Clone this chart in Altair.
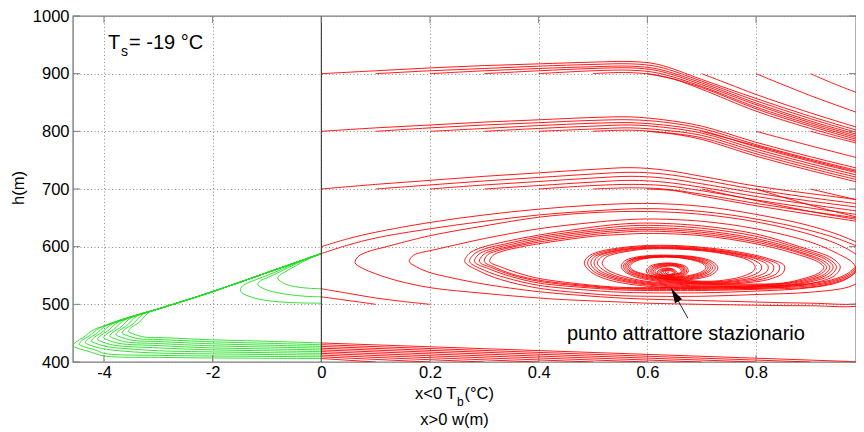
import altair as alt
import pandas as pd

RED = "#ff0000"
GREEN = "#22dd22"
BOX = "#7d7d7d"
FONT = "Liberation Sans"

# axis ticks (left half: Tb in degC, right half: w in m)
X_TICK_VALUES = [-4, -2, 0, 0.2, 0.4, 0.6, 0.8]
Y_TICK_VALUES = [400, 500, 600, 700, 800, 900, 1000]
X_LEFT_LIMIT = -4.57
X_RIGHT_LIMIT = 0.984
Y_LIMITS = [400, 1000]

# ---------------- trajectories ----------------
BAND900 = [
    [(0,900),(0.1,905),(0.2,910),(0.3,914),(0.4,917),(0.5,920),(0.57,921),(0.62,916),(0.7,890),(0.8,857),(0.9,826),(1.0,798)],
    [(0.1,900),(0.2,905),(0.3,909),(0.4,913),(0.5,916),(0.57,917),(0.62,912),(0.7,887),(0.8,853),(0.9,822),(1.0,794)],
    [(0.2,900),(0.3,905),(0.4,909),(0.5,912),(0.57,913),(0.62,908),(0.7,884),(0.8,849),(0.9,818),(1.0,791)],
    [(0.3,900),(0.4,905),(0.5,909),(0.57,910),(0.62,905),(0.7,881),(0.8,846),(0.9,815),(1.0,788)],
    [(0.4,900),(0.5,905),(0.57,906),(0.62,901),(0.7,878),(0.8,842),(0.9,812),(1.0,785)],
    [(0.5,900),(0.56,902),(0.62,897),(0.7,876),(0.8,839),(0.9,809),(1.0,782)],
    [(0.6,900),(0.65,890),(0.7,873),(0.8,835),(0.9,805),(1.0,779)],
    [(0.7,900),(0.75,882),(0.8,864),(0.9,832),(1.0,803)],
    [(0.8,900),(0.9,862),(1.0,828)],
    [(0.9,900),(0.95,880),(1.0,862)],
]
BAND800 = [
    [(0,800),(0.1,806),(0.2,811),(0.3,816),(0.4,820),(0.5,824),(0.57,825),(0.63,820),(0.7,809),(0.8,781),(0.9,756),(1.0,733)],
    [(0.1,800),(0.2,806),(0.3,811),(0.4,815),(0.5,819),(0.57,820),(0.63,816),(0.7,805),(0.8,777),(0.9,752),(1.0,729)],
    [(0.2,800),(0.3,805),(0.4,810),(0.5,814),(0.57,815),(0.63,811),(0.7,801),(0.8,773),(0.9,748),(1.0,725)],
    [(0.3,800),(0.4,805),(0.5,809),(0.57,811),(0.63,807),(0.7,797),(0.8,769),(0.9,744),(1.0,721)],
    [(0.4,800),(0.5,804),(0.57,806),(0.63,802),(0.7,793),(0.8,765),(0.9,740),(1.0,717)],
    [(0.5,800),(0.57,802),(0.63,798),(0.7,789),(0.8,761),(0.9,736),(1.0,713)],
    [(0.6,800),(0.65,795),(0.7,786),(0.8,757),(0.9,732),(1.0,709)],
    [(0.7,800),(0.8,775),(0.9,750),(1.0,727)],
    [(0.8,800),(0.9,775),(1.0,751)],
    [(0.9,800),(0.95,788),(1.0,776)],
]
BAND700 = [
    [(0,700),(0.1,708),(0.2,715),(0.3,722),(0.4,728),(0.5,734),(0.57,737),(0.63,733),(0.7,722),(0.8,705),(0.9,692),(1.0,680)],
    [(0.1,700),(0.2,707),(0.3,714),(0.4,720),(0.5,726),(0.57,729),(0.63,726),(0.7,716),(0.8,699),(0.9,685),(1.0,673)],
    [(0.2,700),(0.3,707),(0.4,713),(0.5,719),(0.57,722),(0.63,719),(0.7,709),(0.8,693),(0.9,679),(1.0,667)],
    [(0.3,700),(0.4,706),(0.5,712),(0.57,715),(0.63,712),(0.7,703),(0.8,687),(0.9,673),(1.0,660)],
    [(0.4,700),(0.5,706),(0.57,708),(0.63,706),(0.7,697),(0.8,681),(0.9,667),(1.0,654)],
    [(0.5,700),(0.57,702),(0.63,700),(0.7,691),(0.8,675),(0.9,661),(1.0,648)],
    [(0.6,700),(0.65,697),(0.7,688),(0.8,671),(0.9,656),(1.0,642)],
    [(0.7,700),(0.8,680),(0.9,661),(1.0,645)],
    [(0.8,700),(0.9,672),(1.0,648)],
    [(0.9,700),(1.0,678)],
]

SPIRAL_T2 = [
    (0,600),(0.05,614),(0.1,625),(0.2,642),(0.3,655),(0.4,665),(0.5,672),(0.6,675),(0.7,670),(0.8,656),(0.9,636),(0.97,614),(1.02,590),(1.05,555),(1.04,520),(1.0,499),
    (0.9,497.5),(0.8,498.5),(0.7,500),(0.6,502),(0.55,504),(0.45,508),(0.4,511),(0.3,519),(0.2,529),(0.14,541),(0.1,553),(0.075,563),(0.062,572),
    (0.068,583),(0.085,591),(0.12,600),(0.2,619),(0.3,636),(0.4,651),(0.5,659),(0.6,661),(0.7,656),(0.8,643),(0.9,621),(0.96,600),(0.995,578),(1.005,560),(0.995,542),(0.97,530),
    (0.9,521),(0.8,517),(0.7,514),(0.6,514),(0.55,515),(0.5,518),(0.4,528),(0.33,543),(0.29,558),(0.264,574),
    (0.272,588),(0.29,597),(0.33,607),(0.4,620),(0.5,634),(0.55,639),(0.6,641),(0.7,636),(0.8,622),(0.88,600),(0.94,580),(0.955,565),(0.945,550),(0.91,538),
    (0.85,530),(0.78,527),(0.7,527),(0.62,530),(0.56,536),(0.52,545),(0.495,557),(0.484,571),
    (0.49,582),(0.51,591),(0.55,598),(0.6,602),(0.65,602),(0.7,599),(0.76,592),(0.82,580),(0.852,567),(0.85,555),(0.83,545),(0.79,538),
    (0.74,535),(0.68,536),(0.62,540),(0.58,547),(0.558,557),(0.552,566),
    (0.558,575),(0.575,581),(0.61,585),(0.65,585),(0.69,582),(0.72,574),(0.73,563),(0.72,552),(0.695,545),
    (0.66,542),(0.63,544),(0.605,550),(0.598,558),(0.605,566),(0.625,571),(0.65,571),(0.672,565),(0.675,556),(0.662,548),(0.645,546),
    (0.625,549),(0.618,556),(0.628,562),(0.645,562),(0.655,555),(0.645,550),(0.635,553),(0.64,556),
]
SPIRAL_T1 = [
    (0,588),(0.05,603),(0.1,615),(0.2,631),(0.3,644),(0.4,655),(0.5,662),(0.6,666),(0.7,661),(0.8,648),(0.9,628),(0.97,607),(1.02,583),(1.045,552),(1.035,522),(1.0,503),
    (0.9,502),(0.8,504),(0.7,506.5),(0.6,509),(0.55,511),(0.5,514),(0.4,522),(0.3,535),(0.24,546),(0.2,555),(0.175,565),(0.162,574),
    (0.168,584),(0.18,589),(0.2,593),(0.3,614),(0.4,631),(0.5,642),(0.55,646),(0.6,648),(0.7,644),(0.8,631),(0.9,608),(0.95,588),(0.978,572),(0.984,560),(0.97,546),(0.94,535),
    (0.88,527),(0.8,523),(0.7,520),(0.6,520),(0.55,521),(0.5,524),(0.4,533),(0.34,546),(0.3,559),(0.273,574),
    (0.281,587),(0.3,596),(0.34,605),(0.4,617),(0.5,630),(0.55,635),(0.6,637),(0.7,632),(0.8,618),(0.88,597),(0.935,578),(0.948,565),(0.938,551),(0.905,540),
    (0.85,532),(0.78,529),(0.7,529),(0.62,532),(0.565,538),(0.525,547),(0.5,558),(0.49,571),
    (0.496,582),(0.515,590),(0.555,597),(0.6,600.5),(0.65,600.5),(0.7,597.5),(0.76,590),(0.815,579),(0.843,567),(0.84,555),(0.82,546),(0.78,539),
    (0.735,536),(0.68,537),(0.625,541),(0.585,548),(0.562,557),(0.556,566),
    (0.562,574),(0.578,580),(0.61,584),(0.65,584),(0.688,581),(0.716,573),(0.725,563),(0.715,553),(0.69,546),
    (0.66,543),(0.632,545),(0.608,551),(0.602,558),(0.608,565),(0.627,570),(0.65,570),(0.669,564),(0.672,556),(0.66,549),(0.645,547),(0.627,550),(0.621,556),(0.63,561),(0.645,561),(0.652,555),(0.643,551),(0.637,554),
]
SPIRAL_G2 = [
    (1.02,592),(1.0,577),(0.99,563),(0.975,549),(0.945,538),(0.9,530),(0.8,526),(0.7,524),(0.6,524),(0.55,525),(0.5,528),(0.4,537),(0.35,548),(0.31,561),(0.282,574),
    (0.29,587),(0.31,595),(0.35,604),(0.4,614),(0.5,627),(0.55,631),(0.6,633),(0.7,628),(0.8,614),(0.88,594),(0.93,577),(0.942,565),(0.932,552),(0.9,541),
    (0.85,533),(0.78,530.5),(0.7,530.5),(0.62,533.5),(0.57,539),(0.53,548),(0.505,559),(0.496,571),
    (0.502,582),(0.52,589),(0.56,596),(0.6,599),(0.65,599),(0.7,596),(0.76,588.5),(0.81,578),(0.832,567),(0.83,556),(0.81,547),(0.77,540),
    (0.73,537),(0.68,538),(0.628,542),(0.588,549),(0.565,558),(0.559,566),(0.565,574),(0.58,579.5),(0.612,583),(0.65,583),(0.686,580),(0.712,572),(0.72,563),(0.71,554),(0.686,547),
    (0.658,544),(0.633,546),(0.611,552),(0.605,558),(0.611,564),(0.628,569),(0.65,569),(0.667,563),(0.669,556),(0.657,550),(0.643,548),(0.629,551),(0.624,556),(0.632,560),(0.645,560),(0.65,555),(0.641,552),
]
SPIRAL_G3 = [
    (1.02,590),(0.998,575),(0.987,563),(0.972,550),(0.943,539.5),(0.9,532),(0.8,528),(0.7,526),(0.6,526),(0.55,527),(0.5,530),(0.4,540),(0.35,551),(0.315,563),(0.291,574),
    (0.298,586),(0.318,594),(0.355,602),(0.4,611),(0.5,624),(0.55,628),(0.6,630),(0.7,625),(0.8,611),(0.88,591),(0.925,575),(0.936,564),(0.926,552),(0.895,542),
    (0.85,535),(0.78,532),(0.7,532),(0.62,535),(0.575,540),(0.535,549),(0.51,560),(0.502,571),
    (0.508,582),(0.526,589),(0.565,595.5),(0.6,598),(0.65,598),(0.7,595),(0.76,587.5),(0.805,577),(0.822,567),(0.82,557),(0.8,548),(0.765,541),
    (0.727,538),(0.68,539),(0.63,543),(0.591,550),(0.568,558),(0.562,566),(0.568,573.5),(0.583,579),(0.614,582.5),(0.65,582.5),(0.684,579),(0.708,571.5),(0.716,563),(0.706,554.5),(0.683,548),
    (0.656,545),(0.634,547),(0.613,552),(0.608,558),(0.614,564),(0.63,568),(0.65,568),(0.665,563),(0.667,556),(0.655,551),(0.641,549),(0.63,552),(0.626,556),(0.634,559),(0.645,559),(0.648,555),
]
SPIRAL_G4 = [
    (1.02,588),(0.996,574),(0.984,563),(0.969,551),(0.941,541),(0.9,534),(0.8,530),(0.7,528),(0.6,527.5),(0.55,528),(0.5,531.5),(0.4,542),(0.35,553),(0.32,564),(0.300,574),
    (0.306,586),(0.325,593),(0.36,601),(0.4,608),(0.5,621),(0.55,625),(0.6,627),(0.7,622),(0.8,608),(0.88,589),(0.92,574),(0.93,564),(0.92,553),(0.89,543),
    (0.85,536),(0.78,533.5),(0.7,533.5),(0.62,536.5),(0.58,541),(0.54,550),(0.517,561),(0.508,571),
    (0.514,581),(0.532,588),(0.57,594.5),(0.6,597),(0.65,597),(0.7,594),(0.755,586.5),(0.795,577),(0.81,567),(0.808,558),(0.79,549),(0.758,542),
    (0.722,539),(0.68,540),(0.632,544),(0.594,551),(0.571,559),(0.565,566),(0.571,573),(0.586,578.5),(0.616,582),(0.65,582),(0.682,578),(0.705,571),(0.712,563),(0.702,555),(0.68,549),
    (0.654,546),(0.635,548),(0.615,553),(0.611,558),(0.617,563),(0.632,567),(0.65,567),(0.663,562),(0.664,556),(0.653,552),(0.64,550),(0.632,553),(0.629,557),(0.637,559),(0.646,557),
]
SPIRAL_G5 = [
    (1.02,586),(0.994,573),(0.981,563),(0.966,552),(0.939,542.5),(0.9,536),(0.8,532),(0.7,530),(0.6,529),(0.55,529.5),(0.5,533),(0.4,545),(0.36,555),(0.33,565),(0.310,574),
    (0.316,585),(0.333,592),(0.365,599),(0.4,605),(0.5,618),(0.55,621),(0.6,623),(0.7,619),(0.8,605),(0.875,587),(0.915,573),(0.925,564),(0.915,554),(0.885,544),
    (0.85,537),(0.78,535),(0.7,535),(0.62,538),(0.585,542),(0.548,551),(0.525,561),(0.517,571),
    (0.523,581),(0.54,587.5),(0.575,593.5),(0.6,596),(0.65,596),(0.7,593),(0.75,586),(0.785,577),(0.798,567),(0.796,558.5),(0.78,550),(0.75,543),
    (0.717,540),(0.68,541),(0.634,545),(0.597,552),(0.574,559),(0.568,566),(0.574,572.5),(0.589,578),(0.618,581.5),(0.65,581.5),(0.68,577.5),(0.702,570.5),(0.708,563),(0.698,555.5),(0.677,550),
    (0.652,547),(0.636,549),(0.617,553.5),(0.614,558),(0.62,562.5),(0.634,566),(0.65,566),(0.661,561),(0.662,556),(0.651,552.5),(0.64,551),(0.634,554),(0.633,557),(0.64,558),
]

RED_LEADIN = [
    [(0.2,500),(0.15,505),(0.1,511),(0.05,519),(0,527)],
    [(0.1,500),(0.07,504),(0.035,508.5),(0,513)],
]
RED_BOTTOM_START_W = [0.1,0.2,0.3,0.4,0.5,0.6,0.7,0.8,0.9,1.0]
RED_BOTTOM_END_H = [406,409,412,415,418,421,424,427,430,433]

GREEN_LINE = [(-3,492),(-2,522),(-1,555),(0,588)]
GREEN_TIPS = [
    [(0,406),(-1,406.5),(-2,407),(-3,408),(-4,410.5),(-4.27,418),(-4.49,424),(-4.57,428),(-4.51,435),(-4.39,442),(-4.17,457),(-4,462)],
    [(0,409),(-1,409.7),(-2,410.4),(-3,411.5),(-4,415),(-4.157,421),(-4.377,426.8),(-4.457,430.8),(-4.397,437.8),(-4.277,444.8),(-4.057,460.3)],
    [(0,412),(-1,413),(-2,414),(-3,415.5),(-3.6,418.5),(-4.044,423.6),(-4.264,429.6),(-4.344,433.6),(-4.284,440.6),(-4.164,447.6),(-3.944,463.7)],
    [(0,415),(-1,416.2),(-2,417.5),(-3,419.5),(-3.5,422.5),(-3.931,426.4),(-4.151,432.4),(-4.231,436.4),(-4.171,443.4),(-4.051,450.4),(-3.831,467.1)],
    [(0,418),(-1,419.5),(-2,421),(-3,424.5),(-3.818,429.2),(-4.038,435.2),(-4.118,439.2),(-4.058,446.2),(-3.938,453.2),(-3.718,470.5)],
    [(0,421),(-1,422.7),(-2,424.4),(-3,428.5),(-3.705,432),(-3.925,438),(-4.005,442),(-3.945,449),(-3.825,456),(-3.605,473.9)],
    [(0,424),(-1,426),(-2,428),(-3,432),(-3.592,434.8),(-3.812,440.8),(-3.892,444.8),(-3.832,451.8),(-3.712,458.8),(-3.492,477.2)],
    [(0,427),(-1,429.2),(-2,431.5),(-3,435.5),(-3.479,437.6),(-3.699,443.6),(-3.779,447.6),(-3.719,454.6),(-3.599,461.6),(-3.379,480.6)],
    [(0,430),(-1,432.5),(-2,435),(-3,439),(-3.366,440.4),(-3.586,446.4),(-3.666,450.4),(-3.606,457.4),(-3.486,464.4),(-3.266,484)],
    [(0,433),(-1,436),(-2,438.5),(-3,442.5),(-3.253,443.2),(-3.473,449.2),(-3.553,453.2),(-3.493,460.2),(-3.373,467.2),(-3.153,487.4)],
]
GREEN_SMALL = [
    [(0,502),(-0.4,502.5),(-0.8,504.5),(-1.1,508),(-1.33,514),(-1.46,520),(-1.49,526),(-1.45,532),(-1.33,538),(-1.0,550),(-0.7,562),(-0.4,574.5),(0,588)],
    [(0,513),(-0.3,514),(-0.6,517),(-0.9,522),(-1.08,528),(-1.17,535),(-1.12,541),(-1.0,546),(-0.75,557),(-0.45,571),(-0.2,581),(0,588)],
    [(0,527),(-0.25,528),(-0.5,531),(-0.68,536),(-0.8,545),(-0.76,551),(-0.65,557),(-0.45,568),(-0.25,578),(0,588)],
]

# annotations
TS_PARTS = ["T", "s", "= -19 °C"]
ATTRACTOR_LABEL = "punto attrattore stazionario"
ARROW_TAIL = (0.6745, 476)
ARROW_TIP = (0.644, 528)
XTITLE_TOP = ["x<0 T", "b", "(°C)"]
XTITLE_BOTTOM = "x>0 w(m)"
YTITLE = "h(m)"

# ---------------- build tables ----------------
def to_u(x):
    # left half of the axis (Tb) is drawn at one tenth of the right half's scale
    return x / 10.0 if x < 0 else x

rows = []
def add(name, grp, pts):
    for i, (x, h) in enumerate(pts):
        rows.append({"cid": name, "grp": grp, "ord": i, "x": x, "u": to_u(x), "h": h})

for k, c in enumerate(BAND900):
    add(f"b9_{k}", "r", c)
for k, c in enumerate(BAND800):
    add(f"b8_{k}", "r", c)
for k, c in enumerate(BAND700):
    add(f"b7_{k}", "r", c)
for name, c in [("T2", SPIRAL_T2), ("T1", SPIRAL_T1), ("G2", SPIRAL_G2),
                ("G3", SPIRAL_G3), ("G4", SPIRAL_G4), ("G5", SPIRAL_G5)]:
    add(name, "r", c)
for k, c in enumerate(RED_LEADIN):
    add(f"li_{k}", "r", c)
for k, (w0, h0) in enumerate(zip(RED_BOTTOM_START_W, RED_BOTTOM_END_H)):
    add(f"rb_{k}", "r", [(w0, 400), (0, h0)])
for k, c in enumerate(GREEN_TIPS):
    add(f"gt_{k}", "g", c + GREEN_LINE)
for k, c in enumerate(GREEN_SMALL):
    add(f"gs_{k}", "g", c)

df = pd.DataFrame(rows)

XU_TICKS = [to_u(v) for v in X_TICK_VALUES]
XU_DOMAIN = [to_u(X_LEFT_LIMIT), X_RIGHT_LIMIT]

W, H = 783, 346

X_AXIS = alt.Axis(
    values=XU_TICKS,
    labelExpr="datum.value < 0 ? '-' + format(-datum.value * 10, 'd') : (datum.value == 0 ? '0' : format(datum.value, '.1f'))",
    grid=True, gridDash=[1, 2.5], gridColor="#8f8f8f", gridWidth=1,
    ticks=False, tickSize=0, domain=False,
    labelFont=FONT, labelFontSize=16.5, labelColor="black", labelPadding=2,
    labelFlush=False, labelOverlap=False, title=None,
)
Y_AXIS = alt.Axis(
    values=Y_TICK_VALUES, format="d",
    grid=True, gridDash=[1, 2.5], gridColor="#8f8f8f", gridWidth=1,
    ticks=False, tickSize=0, domain=False,
    labelFont=FONT, labelFontSize=16.5, labelColor="black", labelPadding=4,
    labelFlush=False, labelOverlap=False, title=None,
)

def xenc(field):
    return alt.X(f"{field}:Q", scale=alt.Scale(domain=XU_DOMAIN, nice=False, zero=False), axis=X_AXIS)

def yenc(field):
    return alt.Y(f"{field}:Q", scale=alt.Scale(domain=Y_LIMITS, nice=False, zero=False), axis=Y_AXIS)

lines = alt.Chart(df).mark_line(clip=True, strokeWidth=0.9, interpolate="catmull-rom").encode(
    x=xenc("u"),
    y=yenc("h"),
    color=alt.Color("grp:N", scale=alt.Scale(domain=["r", "g"], range=[RED, GREEN]), legend=None),
    detail="cid:N",
    order="ord:Q",
)

zero_df = pd.DataFrame({"u": [0.0]})
zero_line = alt.Chart(zero_df).mark_rule(color="#222222", strokeWidth=1).encode(x=xenc("u"))

xt = pd.DataFrame({"u": XU_TICKS})
yt = pd.DataFrame({"h": Y_TICK_VALUES})
tick_bottom = alt.Chart(xt).mark_rule(color=BOX, strokeWidth=1).encode(
    x=xenc("u"), y=alt.value(H), y2=alt.value(H - 7))
tick_top = alt.Chart(xt).mark_rule(color=BOX, strokeWidth=1).encode(
    x=xenc("u"), y=alt.value(0), y2=alt.value(7))
tick_left = alt.Chart(yt).mark_rule(color=BOX, strokeWidth=1).encode(
    y=yenc("h"), x=alt.value(0), x2=alt.value(7))
tick_right = alt.Chart(yt).mark_rule(color=BOX, strokeWidth=1).encode(
    y=yenc("h"), x=alt.value(W), x2=alt.value(W - 7))

arrow_df = pd.DataFrame({"u": [ARROW_TAIL[0]], "h": [ARROW_TAIL[1]],
                         "u2": [ARROW_TIP[0]], "h2": [ARROW_TIP[1]]})
arrow_shaft = alt.Chart(arrow_df).mark_rule(color="#222222", strokeWidth=1).encode(
    x=xenc("u"), y=yenc("h"), x2="u2:Q", y2="h2:Q")
arrow_head = alt.Chart(arrow_df).mark_point(
    shape="M0,0L0.27,1L-0.27,1Z", size=900, angle=331, filled=True,
    color="black", opacity=1, strokeWidth=0).encode(x=xenc("u2"), y=yenc("h2"))

one = pd.DataFrame({"k": [0]})
def txt(text, x, y, size, align="left", baseline="alphabetic", angle=None):
    kw = dict(text=text, font=FONT, fontSize=size, align=align, baseline=baseline, color="black")
    if angle is not None:
        kw["angle"] = angle
    return alt.Chart(one).mark_text(**kw).encode(x=alt.value(x), y=alt.value(y))

texts = [
    txt(TS_PARTS[0], 35, 33, 20),
    txt(TS_PARTS[1], 48, 40, 14),
    txt(TS_PARTS[2], 56, 33, 20),
    txt(ATTRACTOR_LABEL, 494, 324, 20),
    txt(XTITLE_TOP[0], 342, 383, 16.5),
    txt(XTITLE_TOP[1], 384, 389.5, 12),
    txt(XTITLE_TOP[2], 391.5, 383, 16.5),
    txt(XTITLE_BOTTOM, 381.5, 409, 16.5, align="center"),
    txt(YTITLE, -54, 172, 16.5, align="center", baseline="middle", angle=270),
]

chart = alt.layer(
    lines, zero_line, tick_bottom, tick_top, tick_left, tick_right,
    arrow_shaft, arrow_head, *texts
).properties(
    width=W, height=H,
    autosize=alt.AutoSizeParams(type="none"),
    padding={"left": 65, "top": 8, "right": 0, "bottom": 68},
).configure_view(stroke=BOX, strokeWidth=1.4)

chart.save("out.html", embed_options={"renderer": "svg", "actions": False})
